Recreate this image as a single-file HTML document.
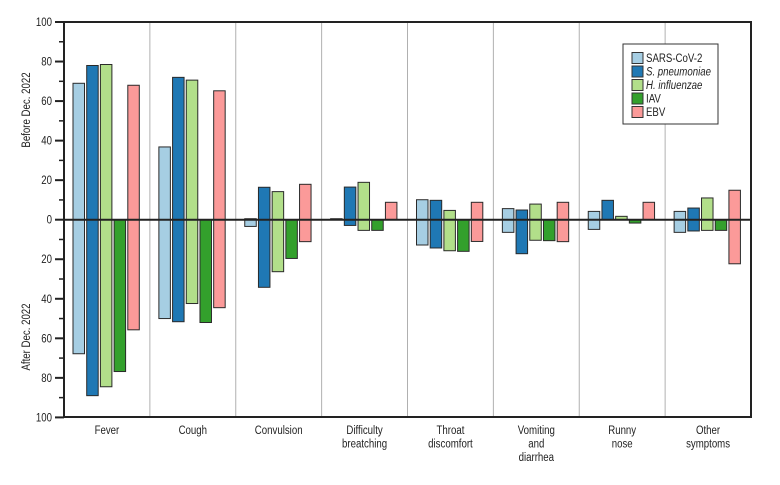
<!DOCTYPE html>
<html><head><meta charset="utf-8"><style>
body{margin:0;background:#fff;}
svg text{font-family:"Liberation Sans",sans-serif;fill:#222;}
</style></head><body>
<svg id="chart" width="780" height="480" xmlns="http://www.w3.org/2000/svg"></svg>
<script>
const categories=[["Fever"],["Cough"],["Convulsion"],["Difficulty","breatching"],["Throat","discomfort"],["Vomiting","and","diarrhea"],["Runny","nose"],["Other","symptoms"]];
const seriesNames=["SARS-CoV-2","S. pneumoniae","H. influenzae","IAV","EBV"];
const seriesItalic=[false,true,true,false,false];
const colors=["#a6cee3","#1f78b4","#b2df8a","#33a02c","#fb9a99"];
const beforeSars=[69,36.8,0.5,0.5,10.1,5.6,4.2,4.2];
const beforeSpn=[78,72,16.4,16.5,9.8,4.9,9.8,5.9];
const beforeHin=[78.5,70.6,14.2,18.9,4.7,7.9,1.7,11];
const beforeIav=[0,0,0,0,0,0,0,0];
const beforeEbv=[68,65.2,17.9,8.8,8.8,8.8,8.8,14.9];
const afterSars=[67.8,50,3.4,0,12.8,6.4,4.9,6.4];
const afterSpn=[89,51.6,34.2,2.9,14.3,17.2,0,5.7];
const afterHin=[84.5,42.4,26.3,5.4,15.7,10.4,0,5.4];
const afterIav=[76.8,52,19.6,5.4,16,10.6,1.7,5.4];
const afterEbv=[55.7,44.5,11.1,0,11,11.1,0,22.3];
const yTicks=[100,80,60,40,20,0,20,40,60,80,100];
const before=[beforeSars,beforeSpn,beforeHin,beforeIav,beforeEbv];
const after=[afterSars,afterSpn,afterHin,afterIav,afterEbv];

const NS="http://www.w3.org/2000/svg";
const svg=document.getElementById("chart");
const X0=64,X1=751,Y0=219.7,YT=22,YB=417;
const k=(Y0-YT)/100;
const cw=(X1-X0)/categories.length;
function y(v){return Y0-v*k;}
function cx(i){return X0+i*cw;}
function mk(t,a,p){const e=document.createElementNS(NS,t);for(const n in a)e.setAttribute(n,a[n]);(p||svg).appendChild(e);return e;}
function narrow(t){const w=t.getComputedTextLength();if(w>0){t.setAttribute("textLength",(w*0.84).toFixed(1));t.setAttribute("lengthAdjust","spacingAndGlyphs");}}

for(let i=1;i<categories.length;i++){
  const l=mk("line",{x1:cx(i),x2:cx(i),y1:YT,y2:YB,stroke:"#b0b0b0","stroke-width":1});
  
  
}
for(let s=0;s<5;s++){
  for(let i=0;i<categories.length;i++){
    const bx=cx(i)+9+s*13.7;
    const top=y(before[s][i]), bot=Y0+after[s][i]*k;
    if(bot-top<0.3) continue;
    const r=mk("rect",{x:bx,y:top,width:11.5,height:bot-top,fill:colors[s],stroke:"#2a2a2a","stroke-width":1});
    
    
  }
}
const z=mk("line",{x1:X0,x2:X1,y1:Y0,y2:Y0,stroke:"#222","stroke-width":2});


const fr=mk("rect",{x:X0,y:YT,width:X1-X0,height:YB-YT,fill:"none",stroke:"#222","stroke-width":2});


yTicks.forEach((t,j)=>{
  const yy=YT+j*20*k;
  const tl=mk("line",{x1:X0-9,x2:X0,y1:yy,y2:yy,stroke:"#222","stroke-width":2});
  
  
  const tx=mk("text",{x:X0-12,y:yy+4,"text-anchor":"end","font-size":11.5});
  tx.textContent=t;
  
  
  narrow(tx);
  if(j<yTicks.length-1){
    const m=mk("line",{x1:X0-5,x2:X0,y1:yy+10*k,y2:yy+10*k,stroke:"#222","stroke-width":1.5});
    
    
  }
});
categories.forEach((c,i)=>{
  c.forEach((w,j)=>{
    const t=mk("text",{x:cx(i)+cw/2,y:434+j*13.5,"text-anchor":"middle","font-size":11.5});
    t.textContent=w;
    
    
    narrow(t);
  });
});
const t1=mk("text",{x:0,y:0,"text-anchor":"middle","font-size":11.5,transform:"translate(30,110) rotate(-90)"});
t1.textContent="Before Dec. 2022";


narrow(t1);
const t2=mk("text",{x:0,y:0,"text-anchor":"middle","font-size":11.5,transform:"translate(30,337) rotate(-90)"});
t2.textContent="After Dec. 2022";


narrow(t2);
const lg=mk("g",{});


mk("rect",{x:623,y:44,width:95,height:80,fill:"#fff",stroke:"#333","stroke-width":1},lg);
seriesNames.forEach((n,s)=>{
  const yy=58+s*13.5;
  const sw=mk("rect",{x:632,y:yy-5.5,width:11,height:11,fill:colors[s],stroke:"#333","stroke-width":1},lg);
  
  
  const t=mk("text",{x:646,y:yy+4,"font-size":11.5},lg);
  if(seriesItalic[s]) t.setAttribute("font-style","italic");
  t.textContent=n;
  
  
  narrow(t);
});
</script>
</body></html>
